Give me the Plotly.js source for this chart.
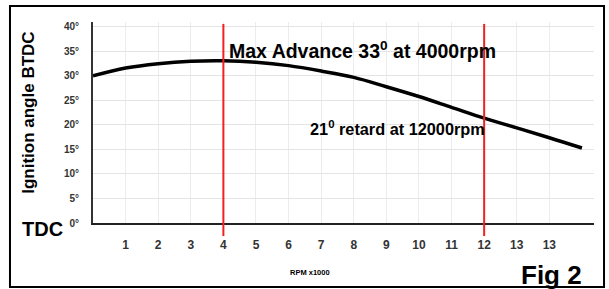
<!DOCTYPE html>
<html>
<head>
<meta charset="utf-8">
<script src="https://cdn.plot.ly/plotly-3.0.1.min.js"></script>
<style>
html,body{margin:0;padding:0;background:#fff;}
#chart{width:609px;height:289px;}
</style>
</head>
<body>
<div id="chart"></div>
<script>
// Data
const rpm = [0, 1, 2, 3, 4, 5, 6, 7, 8, 9, 10, 11, 12, 13, 14, 15];
const advance = [30.0, 31.6, 32.5, 33.0, 33.1, 32.8, 32.1, 31.0, 29.7, 27.8, 25.8, 23.6, 21.4, 19.4, 17.4, 15.3];
const xTickVals = [1, 2, 3, 4, 5, 6, 7, 8, 9, 10, 11, 12, 13, 14];
const xTickText = ['1', '2', '3', '4', '5', '6', '7', '8', '9', '10', '11', '12', '13', '13'];
const yTickVals = [0, 5, 10, 15, 20, 25, 30, 35, 40];
const yTickText = ['0°', '5°', '10°', '15°', '20°', '25°', '30°', '35°', '40°'];
const markerRpm = [4, 12];

const FONT = 'Liberation Sans, Arial, sans-serif';

const trace = {
  x: rpm, y: advance, type: 'scatter', mode: 'lines',
  line: {color: '#000', width: 3.5, shape: 'spline', smoothing: 1},
  hoverinfo: 'skip'
};

const shapes = [
  // outer frame
  {type: 'rect', xref: 'paper', yref: 'paper', x0: -0.1657, x1: 1.02, y0: -0.318, y1: 1.08,
   line: {color: '#000', width: 2}, fillcolor: 'rgba(0,0,0,0)', layer: 'below'}
];
markerRpm.forEach(v => shapes.push({
  type: 'line', xref: 'x', yref: 'paper', x0: v, x1: v, y0: -0.065, y1: 0.99,
  line: {color: '#f02020', width: 2}
}));

const layout = {
  width: 609, height: 289,
  margin: {l: 93, r: 15, t: 22, b: 66},
  paper_bgcolor: '#fff', plot_bgcolor: '#fff',
  showlegend: false,
  font: {family: FONT, color: '#000'},
  xaxis: {
    range: [0, 15.37], tickvals: xTickVals, ticktext: xTickText,
    showgrid: true, gridcolor: '#ececec', gridwidth: 1,
    showline: true, linecolor: '#222', linewidth: 2,
    zeroline: false, ticks: '', ticklabelstandoff: 10,
    tickfont: {family: FONT, size: 12, color: '#333', weight: 'bold'}
  },
  yaxis: {
    range: [0, 41], tickvals: yTickVals, ticktext: yTickText,
    showgrid: true, gridcolor: '#e4e4e4', gridwidth: 1,
    showline: true, linecolor: '#333', linewidth: 2,
    zeroline: false, ticks: '', ticklabelstandoff: 10,
    tickfont: {family: FONT, size: 10, color: '#333', weight: 'bold'}
  },
  shapes: shapes,
  annotations: [
    {text: 'Ignition angle BTDC', xref: 'paper', yref: 'paper', x: -0.129, y: 0.55,
     xanchor: 'center', yanchor: 'middle',
     textangle: -90, showarrow: false, font: {family: FONT, size: 17, weight: 'bold', color: '#000'}},
    {text: 'TDC', xref: 'paper', yref: 'paper', x: -0.1, y: -0.03, showarrow: false,
     xanchor: 'center', yanchor: 'middle', font: {family: FONT, size: 20, weight: 'bold', color: '#000'}},
    {text: 'RPM x1000', xref: 'paper', yref: 'paper', x: 0.433, y: -0.245, showarrow: false,
     xanchor: 'center', yanchor: 'middle',
     font: {family: FONT, size: 7.5, weight: 'bold', color: '#000'}},
    {text: 'Fig 2', xref: 'paper', yref: 'paper', x: 0.916, y: -0.26, showarrow: false,
     xanchor: 'center', yanchor: 'middle',
     font: {family: FONT, size: 26, weight: 'bold', color: '#000'}},
    {text: 'Max Advance 33<sup>0</sup> at 4000rpm', xref: 'paper', yref: 'paper', x: 0.267, y: 0.86,
     xanchor: 'left', yanchor: 'middle', showarrow: false, font: {family: FONT, size: 19.5, weight: 'bold', color: '#000'}},
    {text: '21<sup>0</sup> retard at 12000rpm', xref: 'paper', yref: 'paper', x: 0.43, y: 0.475,
     xanchor: 'left', yanchor: 'middle', showarrow: false, font: {family: FONT, size: 16.3, weight: 'bold', color: '#000'}}
  ]
};

Plotly.newPlot('chart', [trace], layout, {staticPlot: true, displayModeBar: false});
</script>
</body>
</html>
